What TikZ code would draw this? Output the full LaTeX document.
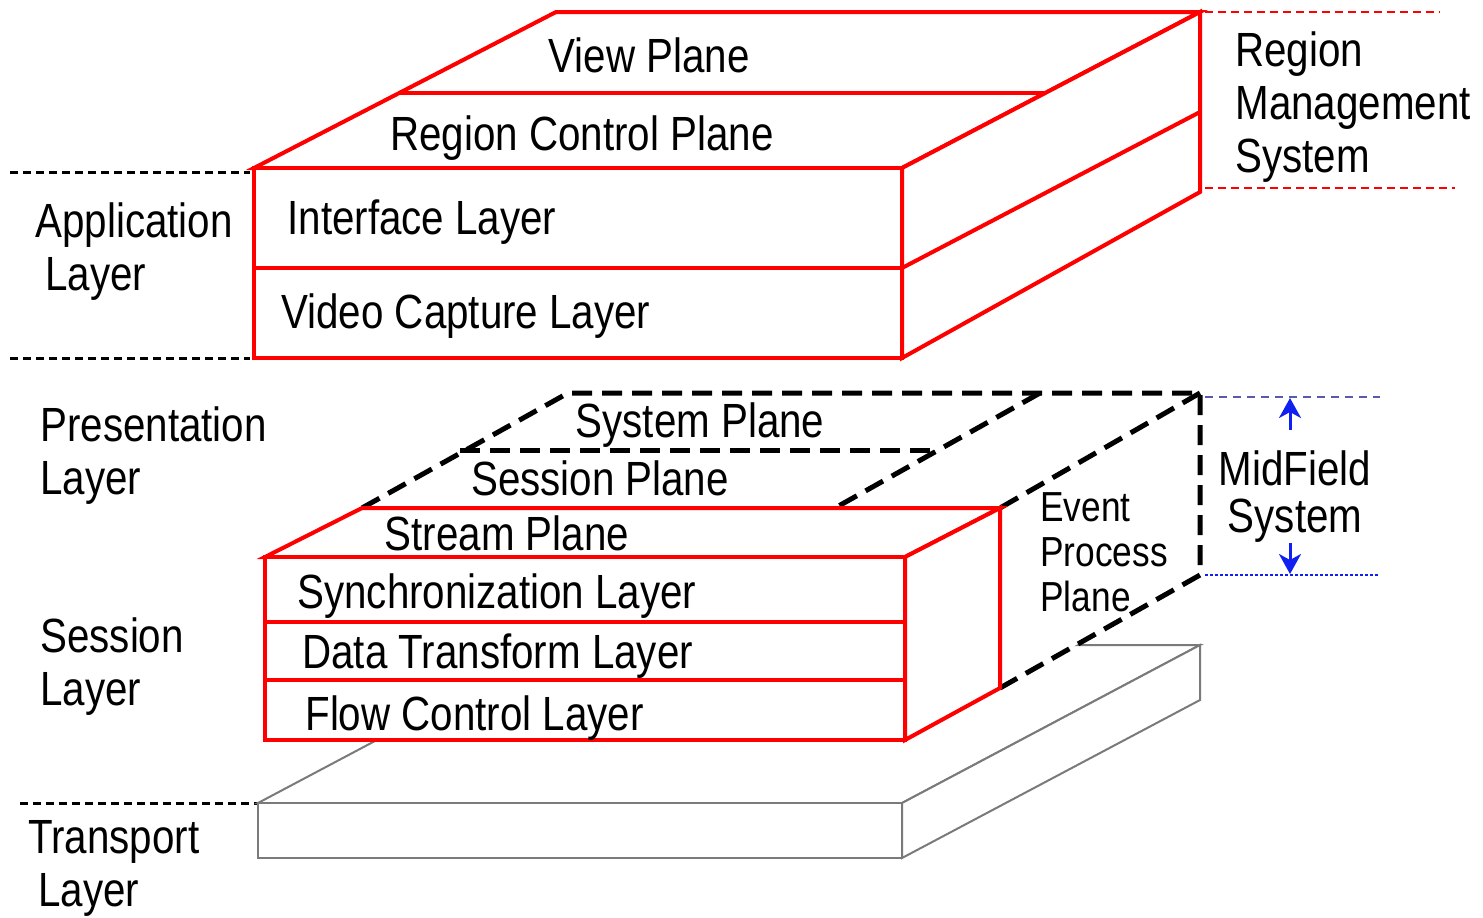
\documentclass[tikz,border=0pt]{standalone}
\usepackage{fontspec}
\setmainfont{Liberation Sans}[FakeStretch=0.84]
\usetikzlibrary{arrows.meta}
\definecolor{planered}{HTML}{FF0000}
\definecolor{slabgray}{HTML}{7A7A7A}
\definecolor{guideblue}{HTML}{5A5AAA}
\definecolor{tipblue}{HTML}{1020F0}

\begin{document}
\begin{tikzpicture}[x=0.5pt, y=-0.5pt,
  font=\fontsize{24pt}{26.5pt}\selectfont,
  redbox/.style={draw=planered, line width=2pt, fill=white, line join=miter},
  slab/.style={draw=slabgray, line width=1pt, fill=white},
  midbox/.style={draw=black, line width=2.5pt, dash pattern=on 10pt off 5pt},
  guide/.style={draw=black, line width=1.5pt, dash pattern=on 4pt off 2.5pt},
  redguide/.style={guide, draw=planered, line width=1.2pt},
  lbl/.style={inner sep=0pt, align=left, anchor=base west},
  mid/.style={inner sep=0pt, anchor=base},
  updown/.style={-{Stealth[length=10pt, width=11pt, inset=3pt]}, draw=tipblue, line width=1.5pt}]

\useasboundingbox (0,0) rectangle (1483,917);

% layer separators on the left
\draw[guide] (10,172) -- (250,172);
\draw[guide] (10,358) -- (250,358);
\draw[guide] (20,803) -- (258,803);

% transport slab
\draw[slab] (258,803) -- (556,645) -- (1200,645) -- (902,803) -- cycle;
\draw[slab] (902,803) -- (1200,645) -- (1200,700) -- (902,858) -- cycle;
\draw[slab] (258,803) rectangle (902,858);

% midfield system (dashed)
\fill[white] (362,508) -- (568,393) -- (1200,393) -- (1200,575) -- (1000,688) -- (1000,508) -- cycle;
\draw[midbox] (362,508) -- (568,393) -- (1200,393) -- (1200,575) -- (1000,688);
\draw[midbox] (1200,393) -- (1000,508);
\draw[midbox] (460,450) -- (935,450);
\draw[midbox] (1040,393) -- (835,508);

% stream box
\draw[redbox] (265,557) -- (362,508) -- (1000,508) -- (905,557) -- cycle;
\draw[redbox] (905,557) -- (1000,508) -- (1000,688) -- (905,740) -- cycle;
\draw[redbox] (265,557) rectangle (905,740);
\draw[redbox] (265,622) -- (905,622) (265,680) -- (905,680);

% region management box
\draw[redbox] (254,168) -- (556,12) -- (1200,12) -- (902,168) -- cycle;
\draw[redbox] (399,93) -- (1045,93);
\draw[redbox] (902,168) -- (1200,12) -- (1200,192) -- (902,358) -- cycle;
\draw[redbox] (902,268) -- (1200,112);
\draw[redbox] (254,168) rectangle (902,358);
\draw[redbox] (254,268) -- (902,268);

\draw[redguide] (1205,12) -- (1440,12);
\draw[redguide] (1205,188) -- (1455,188);

% midfield extent
\draw[guide, draw=guideblue, line width=1pt, dash pattern=on 4pt off 3pt] (1205,397) -- (1380,397);
\draw[guide, draw=tipblue, line width=1pt, dash pattern=on 1.5pt off 1pt] (1205,575) -- (1380,575);
\coordinate (mf-top) at (1290,398);
\coordinate (mf-bot) at (1290,574);
\draw[updown] (1290,430) -- (mf-top);
\draw[updown] (1290,543) -- (mf-bot);

% texts
\node[mid] (view) at (649,72) {View Plane};
\node[mid] (rcp) at (582,150) {Region Control Plane};
\node[lbl] (iface) at (287,234) {Interface Layer};
\node[lbl] (vcap) at (281,328) {Video Capture Layer};
\node[lbl] (rms) at (1235,172) {Region\\Management\\System};
\node[lbl] (app) at (35,290) {Application\\\hspace*{5pt}Layer};
\node[lbl] (pres) at (40,494) {Presentation\\Layer};
\node[mid] (sysp) at (700,437) {System Plane};
\node[mid] (sesp) at (600,495) {Session Plane};
\node[mid] (strp) at (507,550) {Stream Plane};
\node[lbl, font=\fontsize{21pt}{22.5pt}\selectfont] (epp) at (1040,611) {Event\\Process\\Plane};
\node[mid, align=center, font=\fontsize{24pt}{23.5pt}\selectfont] (mfs) at (1295,532) {MidField\\System};
\node[lbl] (sync) at (297,608) {Synchronization Layer};
\node[lbl] (dtl) at (302,668) {Data Transform Layer};
\node[lbl] (fcl) at (305,730) {Flow Control Layer};
\node[lbl] (sess) at (40,705) {Session\\Layer};
\node[lbl] (trans) at (28,906) {Transport\\\hspace*{5pt}Layer};
\end{tikzpicture}
\end{document}
